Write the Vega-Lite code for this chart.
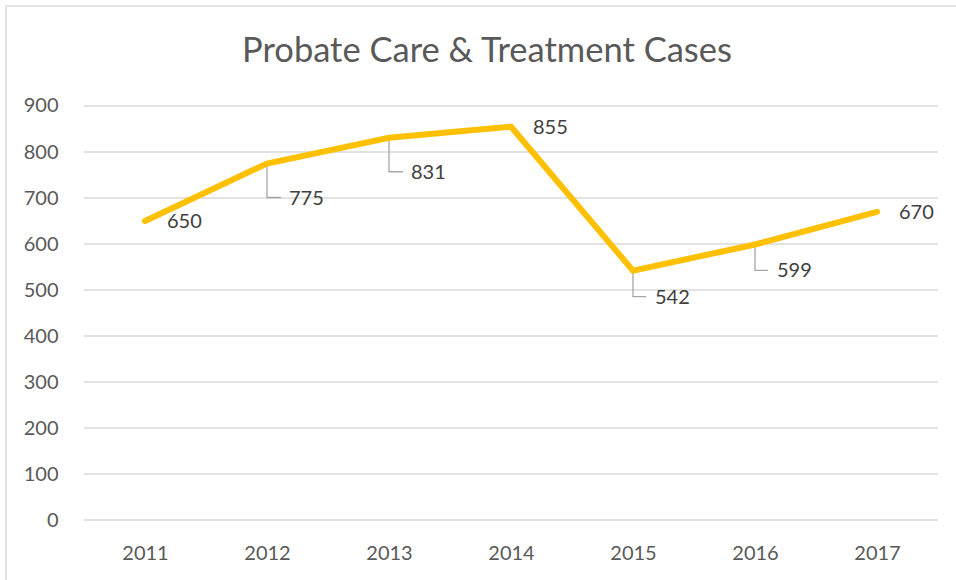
{
  "$schema": "https://vega.github.io/schema/vega-lite/v6.json",
  "width": 950,
  "height": 574,
  "autosize": {"type": "none"},
  "padding": {"left": 6, "top": 6, "right": 0, "bottom": 0},
  "background": "white",
  "title": {
    "text": "Probate Care & Treatment Cases",
    "font": "Lato",
    "fontSize": 34.5,
    "fontWeight": "normal",
    "color": "#595959",
    "anchor": "middle",
    "frame": "group",
    "baseline": "alphabetic",
    "offset": -90,
    "dx": 6
  },
  "config": {
    "font": "Lato",
    "view": {"stroke": "#d9d9d9", "strokeWidth": 1.5, "strokeDash": [950, 1524, 574, 0]}
  },
  "datasets": {
    "cases": [
      {"year": 2011, "value": 650},
      {"year": 2012, "value": 775},
      {"year": 2013, "value": 831},
      {"year": 2014, "value": 855},
      {"year": 2015, "value": 542},
      {"year": 2016, "value": 599},
      {"year": 2017, "value": 670}
    ],
    "gridlines": [
      {"value": 0}, {"value": 100}, {"value": 200}, {"value": 300}, {"value": 400},
      {"value": 500}, {"value": 600}, {"value": 700}, {"value": 800}, {"value": 900}
    ]
  },
  "layer": [
    {
      "data": {"name": "gridlines"},
      "mark": {"type": "rule", "color": "#d9d9d9", "strokeWidth": 1.3},
      "encoding": {
        "y": {
          "field": "value", "type": "quantitative",
          "scale": {"type": "linear", "domain": [-130.43, 1117.39], "nice": false, "zero": false},
          "axis": {
            "values": [0, 100, 200, 300, 400, 500, 600, 700, 800, 900],
            "orient": "left", "offset": -52, "grid": false, "domain": false,
            "ticks": false, "tickSize": 0, "labelPadding": 0,
            "labelFont": "Lato", "labelFontSize": 20, "labelColor": "#595959",
            "labelOverlap": false, "labelFlush": false, "title": null
          }
        },
        "x": {
          "datum": 2010.5, "type": "quantitative",
          "scale": {"type": "linear", "domain": [2009.8607, 2017.6476], "nice": false, "zero": false},
          "axis": {
            "values": [2011, 2012, 2013, 2014, 2015, 2016, 2017],
            "format": "d", "orient": "bottom", "offset": -60, "grid": false, "domain": false,
            "ticks": false, "tickSize": 0, "labelPadding": 23,
            "labelFont": "Lato", "labelFontSize": 20, "labelColor": "#595959",
            "labelOverlap": false, "labelFlush": false, "title": null
          }
        },
        "x2": {"datum": 2017.5}
      }
    },
    {
      "data": {"name": "cases"},
      "transform": [{"filter": {"field": "year", "oneOf": [2012, 2013]}}],
      "mark": {"type": "point", "shape": "M0,0L0,1L0.41,1", "size": 4624, "filled": false, "stroke": "#a6a6a6", "strokeWidth": 1.3, "opacity": 1},
      "encoding": {
        "x": {"field": "year", "type": "quantitative"},
        "y": {"field": "value", "type": "quantitative"}
      }
    },
    {
      "data": {"name": "cases"},
      "transform": [{"filter": {"field": "year", "oneOf": [2015, 2016]}}],
      "mark": {"type": "point", "shape": "M0,0L0,1L0.5,1", "size": 2704, "filled": false, "stroke": "#a6a6a6", "strokeWidth": 1.3, "opacity": 1},
      "encoding": {
        "x": {"field": "year", "type": "quantitative"},
        "y": {"field": "value", "type": "quantitative"}
      }
    },
    {
      "data": {"name": "cases"},
      "mark": {"type": "line", "color": "#FFC000", "strokeWidth": 6, "strokeCap": "round", "strokeJoin": "miter"},
      "encoding": {
        "x": {"field": "year", "type": "quantitative"},
        "y": {"field": "value", "type": "quantitative"}
      }
    },
    {
      "data": {"name": "cases"},
      "transform": [{"filter": {"field": "year", "oneOf": [2011, 2014, 2017]}}],
      "mark": {"type": "text", "align": "left", "baseline": "middle", "dx": 22, "dy": 1, "font": "Lato", "fontSize": 20, "color": "#404040"},
      "encoding": {
        "x": {"field": "year", "type": "quantitative"},
        "y": {"field": "value", "type": "quantitative"},
        "text": {"field": "value", "type": "quantitative"}
      }
    },
    {
      "data": {"name": "cases"},
      "transform": [{"filter": {"field": "year", "oneOf": [2012, 2013]}}],
      "mark": {"type": "text", "align": "left", "baseline": "middle", "dx": 22, "dy": 35, "font": "Lato", "fontSize": 20, "color": "#404040"},
      "encoding": {
        "x": {"field": "year", "type": "quantitative"},
        "y": {"field": "value", "type": "quantitative"},
        "text": {"field": "value", "type": "quantitative"}
      }
    },
    {
      "data": {"name": "cases"},
      "transform": [{"filter": {"field": "year", "oneOf": [2015, 2016]}}],
      "mark": {"type": "text", "align": "left", "baseline": "middle", "dx": 22, "dy": 27, "font": "Lato", "fontSize": 20, "color": "#404040"},
      "encoding": {
        "x": {"field": "year", "type": "quantitative"},
        "y": {"field": "value", "type": "quantitative"},
        "text": {"field": "value", "type": "quantitative"}
      }
    }
  ]
}
